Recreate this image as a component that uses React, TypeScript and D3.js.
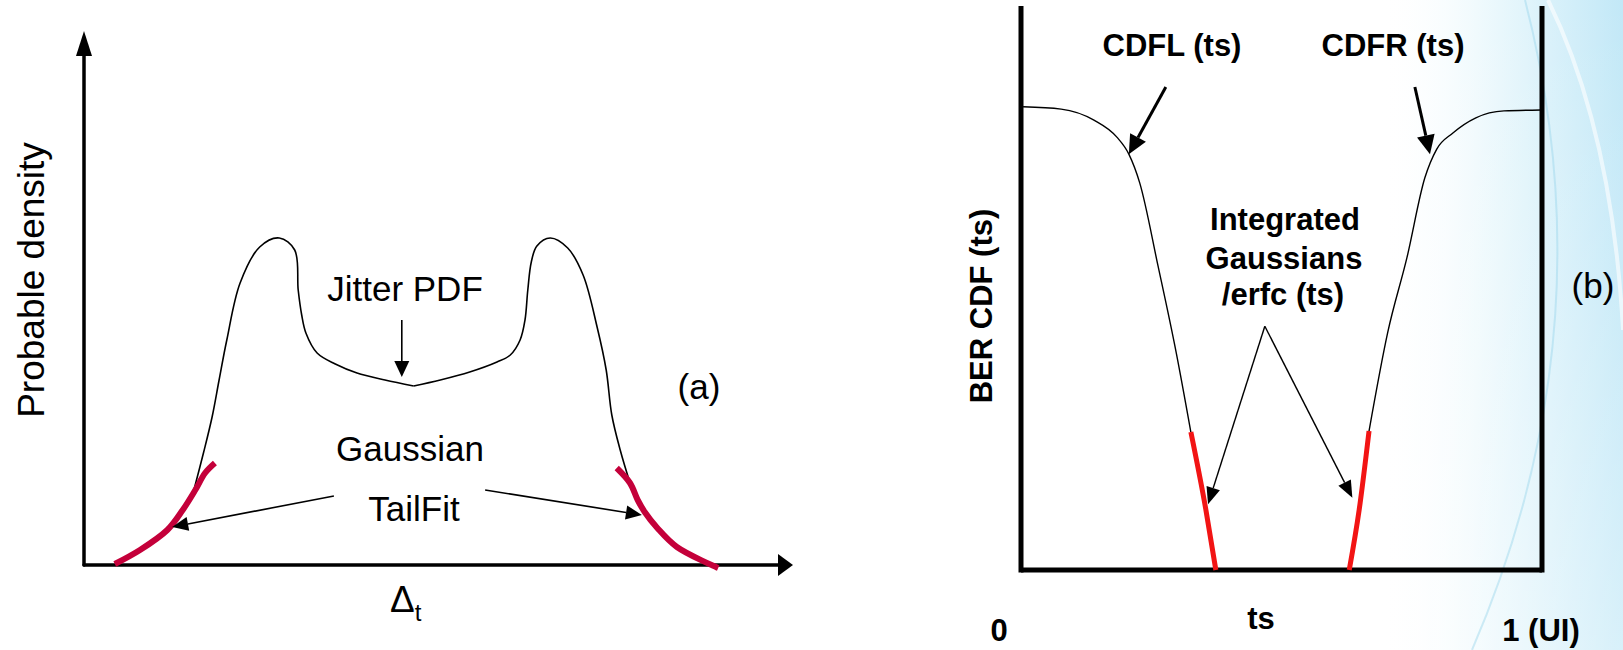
import React from 'react';
import * as d3 from 'd3';

// ---- panel (a): jitter PDF, values in arbitrary units (x: 0-100, density: 0-100)
const pdfLeft: [number, number][] = [
  [15.7, 15], [17.1, 22.6], [18.3, 29.6], [19.3, 37], [20.4, 45], [22.3, 56.4],
  [25.1, 63.6], [27.9, 65.4], [30.1, 63], [30.6, 55], [31.1, 50], [31.7, 46.4],
  [33.3, 42.4], [35.9, 40.2], [39, 38.4], [43, 37], [47.1, 35.8],
];
const pdfRight: [number, number][] = [
  [47.1, 35.8], [50.9, 37], [55.1, 38.6], [59, 40.6], [60.9, 42], [62.3, 45],
  [63, 49], [63.4, 55], [63.9, 60.6], [64.7, 63.8], [66.6, 65.4], [69.1, 63.4],
  [71.3, 58], [73.3, 47.6], [74.6, 39], [75.4, 30], [76.6, 23], [78, 16.4],
];
const tailLeft: [number, number][] = [
  [4.4, 0.2], [8, 3], [11.9, 7], [14.1, 11], [15.9, 15], [17.3, 18.4], [18.7, 20.4],
];
const tailRight: [number, number][] = [
  [76.1, 19.4], [78, 16.4], [79.1, 13], [80.1, 10.6], [81.9, 7.4], [84.7, 3.6], [90.6, -0.6],
];

// ---- panel (b): BER CDF, ts in UI (0-1), CDF in % of full scale
const cdfLeft: [number, number][] = [
  [0.004, 100.7], [0.077, 100.2], [0.14, 97.8], [0.184, 94.1], [0.207, 90.4],
  [0.228, 84.1], [0.263, 66.1], [0.298, 47.2], [0.326, 30],
];
const erfcLeft: [number, number][] = [[0.326, 30], [0.355, 13], [0.374, 0]];
const erfcRight: [number, number][] = [[0.63, 0], [0.649, 13], [0.668, 30.2]];
const cdfRight: [number, number][] = [
  [0.668, 30.2], [0.704, 51.7], [0.741, 68], [0.775, 85.2], [0.798, 91.5],
  [0.829, 95], [0.873, 98.3], [0.927, 99.8], [0.998, 100],
];

const W = 1623;
const H = 650;
const FONT = '"Liberation Sans", Arial, sans-serif';

// scales
const xA = d3.scaleLinear().domain([0, 100]).range([84, 784]);
const yA = d3.scaleLinear().domain([0, 100]).range([565, 65]);
const xB = d3.scaleLinear().domain([0, 1]).range([1021, 1542]);
const yB = d3.scaleLinear().domain([0, 100]).range([570, 110]);

const pdfLine = d3.line<[number, number]>()
  .x(d => xA(d[0])).y(d => yA(d[1]))
  .curve(d3.curveCatmullRom.alpha(0.5));
const cdfLine = d3.line<[number, number]>()
  .x(d => xB(d[0])).y(d => yB(d[1]))
  .curve(d3.curveMonotoneX);

// straight line with a filled triangular head at (x2, y2)
const Arrow = ({ x1, y1, x2, y2, w = 1.5, len = 15, half = 7 }: any) => {
  const a = Math.atan2(y2 - y1, x2 - x1);
  const bx = x2 - len * Math.cos(a);
  const by = y2 - len * Math.sin(a);
  const px = -Math.sin(a) * half;
  const py = Math.cos(a) * half;
  return (
    <g>
      <line x1={x1} y1={y1} x2={bx} y2={by} stroke="#000" strokeWidth={w} />
      <polygon points={`${x2},${y2} ${bx + px},${by + py} ${bx - px},${by - py}`} fill="#000" />
    </g>
  );
};

const App = () => {
  const [x0] = xA.range();
  const [y0] = yA.range();
  const [bx0, bx1] = xB.range();
  const by0 = yB(0);
  return (
    <div style={{ position: 'absolute', left: 0, top: 0 }}>
      <svg width={W} height={H} style={{ display: 'block', fontFamily: FONT }}>
        <defs>
          <linearGradient id="bgH" gradientUnits="userSpaceOnUse" x1={1380} y1={0} x2={1623} y2={0}>
            <stop offset="0%" stopColor="#ffffff" stopOpacity={0} />
            <stop offset="40%" stopColor="#f0fafd" stopOpacity={1} />
            <stop offset="100%" stopColor="#c2e8f7" stopOpacity={1} />
          </linearGradient>
          <linearGradient id="bgV" x1="0" y1="0" x2="0" y2="1">
            <stop offset="0%" stopColor="#ffffff" stopOpacity={0} />
            <stop offset="100%" stopColor="#ffffff" stopOpacity={0.35} />
          </linearGradient>
        </defs>
        <rect width={W} height={H} fill="#fff" />
        <rect x={1380} y={0} width={W - 1380} height={H} fill="url(#bgH)" />
        <rect x={1380} y={0} width={W - 1380} height={H} fill="url(#bgV)" />
        <path d="M1472,650 Q1610,330 1525,0" fill="none" stroke="#9ad5ec" strokeOpacity={0.45} strokeWidth={2} />
        <path d="M1548,0 Q1612,130 1623,330" fill="none" stroke="#ffffff" strokeOpacity={0.6} strokeWidth={4} />

        {/* ---------- panel (a) ---------- */}
        <line x1={x0} y1={y0} x2={793 - 15} y2={y0} stroke="#000" strokeWidth={3.5} strokeLinecap="round" />
        <polygon points={`793,${y0} ${778},${y0 - 11} ${778},${y0 + 11}`} fill="#000" />
        <line x1={x0} y1={y0} x2={x0} y2={54} stroke="#000" strokeWidth={3.5} strokeLinecap="round" />
        <polygon points={`${x0},31 ${x0 - 8},56 ${x0 + 8},56`} fill="#000" />

        <path d={pdfLine(pdfLeft) || ''} fill="none" stroke="#000" strokeWidth={1.6} />
        <path d={pdfLine(pdfRight) || ''} fill="none" stroke="#000" strokeWidth={1.6} />
        <path d={pdfLine(tailLeft) || ''} fill="none" stroke="#c4003a" strokeWidth={6} />
        <path d={pdfLine(tailRight) || ''} fill="none" stroke="#c4003a" strokeWidth={6} />

        <text transform="translate(44,280) rotate(-90)" textAnchor="middle" fontSize={37}>Probable density</text>
        <text x={405} y={301} textAnchor="middle" fontSize={35}>Jitter PDF</text>
        <Arrow x1={xA(45.4)} y1={yA(49)} x2={xA(45.4)} y2={yA(37.6)} w={1.6} len={16} half={7.5} />
        <text x={699} y={399} textAnchor="middle" fontSize={35}>(a)</text>
        <text x={410} y={461} textAnchor="middle" fontSize={35}>Gaussian</text>
        <text x={414} y={521} textAnchor="middle" fontSize={35}>TailFit</text>
        <Arrow x1={xA(35.7)} y1={yA(13.8)} x2={xA(12.6)} y2={yA(7.6)} w={1.6} len={16} half={7} />
        <Arrow x1={xA(57.3)} y1={yA(15)} x2={xA(79.7)} y2={yA(10)} w={1.6} len={16} half={7} />
        <text x={390} y={612} fontSize={37}>
          Δ<tspan fontSize={24} dy={9}>t</tspan>
        </text>

        {/* ---------- panel (b) ---------- */}
        <line x1={bx0} y1={6} x2={bx0} y2={by0 + 2.5} stroke="#000" strokeWidth={5} />
        <line x1={bx1} y1={6} x2={bx1} y2={by0 + 2.5} stroke="#000" strokeWidth={5} />
        <line x1={bx0} y1={by0} x2={bx1} y2={by0} stroke="#000" strokeWidth={5} />

        <path d={cdfLine(cdfLeft) || ''} fill="none" stroke="#000" strokeWidth={1.4} />
        <path d={cdfLine(cdfRight) || ''} fill="none" stroke="#000" strokeWidth={1.4} />
        <path d={cdfLine(erfcLeft) || ''} fill="none" stroke="#f21414" strokeWidth={5} />
        <path d={cdfLine(erfcRight) || ''} fill="none" stroke="#f21414" strokeWidth={5} />

        <g fontWeight="bold" fontSize={31}>
          <text x={1172} y={56} textAnchor="middle">CDFL (ts)</text>
          <text x={1393} y={56} textAnchor="middle">CDFR (ts)</text>
          <text x={1285} y={230} textAnchor="middle">Integrated</text>
          <text x={1284} y={269} textAnchor="middle">Gaussians</text>
          <text x={1283} y={305} textAnchor="middle">/erfc (ts)</text>
          <text transform="translate(992,306) rotate(-90)" textAnchor="middle">BER CDF (ts)</text>
          <text x={999} y={641} textAnchor="middle">0</text>
          <text x={1261} y={629} textAnchor="middle">ts</text>
          <text x={1541} y={641} textAnchor="middle">1 (UI)</text>
        </g>
        <text x={1593} y={298} textAnchor="middle" fontSize={35}>(b)</text>

        <Arrow x1={xB(0.278)} y1={yB(105)} x2={xB(0.207)} y2={yB(90.4)} w={3} len={19} half={9} />
        <Arrow x1={xB(0.756)} y1={yB(105)} x2={xB(0.785)} y2={yB(90.4)} w={3} len={19} half={9} />
        <Arrow x1={xB(0.468)} y1={yB(53)} x2={xB(0.359)} y2={yB(14.3)} w={1.4} len={17} half={7} />
        <Arrow x1={xB(0.468)} y1={yB(53)} x2={xB(0.636)} y2={yB(15.7)} w={1.4} len={17} half={7} />
      </svg>
    </div>
  );
};

export default App;
